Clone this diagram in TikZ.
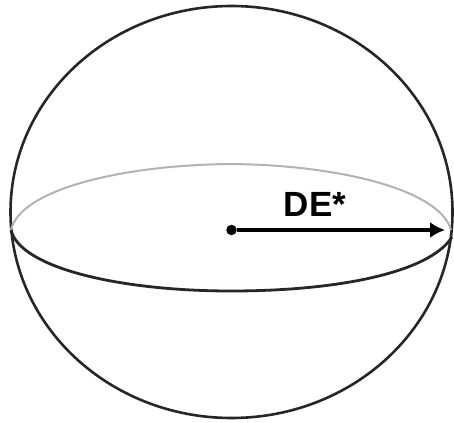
\documentclass[tikz,border=0pt]{standalone}
\usepackage{fontspec}
\setmainfont{Liberation Sans}
\usetikzlibrary{arrows.meta}
\begin{document}
\begin{tikzpicture}[x=1pt,y=-1pt]
\useasboundingbox (0,0) rectangle (454,422);
% Outer sphere
\draw[line width=2.6pt,black!85] (231.5,212) ellipse (221 and 206);
% Equator, back and front
\draw[line width=2pt,black!30] (11,230) .. controls (20,190) and (120,165) .. (231,164) .. controls (340,165) and (440,190) .. (451,230);
\draw[line width=2.8pt,black!85] (11,230) .. controls (20,268) and (120,291) .. (231,291) .. controls (340,291) and (430,272) .. (452,237);
% Centre and radius
\node[circle,fill=black,inner sep=0pt,minimum size=10.5pt] (center) at (231.5,230) {};
\coordinate (rim) at (445,230);
\draw[line width=4.8pt,-{Latex[length=15pt,width=16pt]}] (center) -- (rim);
\node[font=\bfseries,scale=3.5] (label) at (315,204) {DE*};
\end{tikzpicture}
\end{document}
